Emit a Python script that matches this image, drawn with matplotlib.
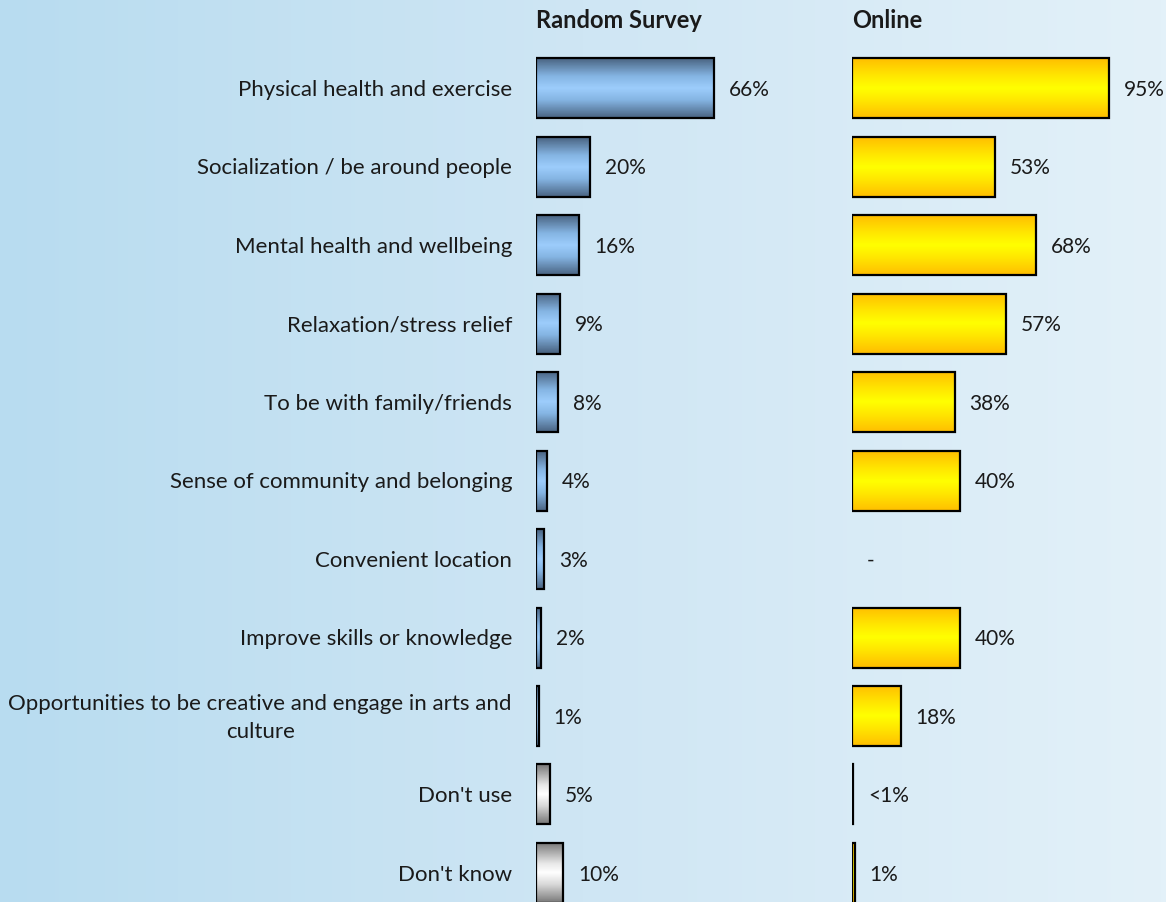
import numpy as np
import matplotlib
matplotlib.use("Agg")
import matplotlib.pyplot as plt
from matplotlib.colors import LinearSegmentedColormap

# ---------------- data ----------------
categories = [
    "Physical health and exercise",
    "Socialization / be around people",
    "Mental health and wellbeing",
    "Relaxation/stress relief",
    "To be with family/friends",
    "Sense of community and belonging",
    "Convenient location",
    "Improve skills or knowledge",
    "Opportunities to be creative and engage in arts and\nculture",
    "Don't use",
    "Don't know",
]
random_values = [66, 20, 16, 9, 8, 4, 3, 2, 1, 5, 10]
random_labels = ["66%", "20%", "16%", "9%", "8%", "4%", "3%", "2%", "1%", "5%", "10%"]
random_kind = ["blue"] * 9 + ["gray"] * 2

online_values = [95, 53, 68, 57, 38, 40, None, 40, 18, 0.3, 1]
online_labels = ["95%", "53%", "68%", "57%", "38%", "40%", "-", "40%", "18%", "<1%", "1%"]

headers = ["Random Survey", "Online"]

# ---------------- style ----------------
W, H = 1166, 903
FONT = "Lato"
TXT = "#1a1a1a"
plt.rcParams["font.family"] = [FONT, "DejaVu Sans"]

cmaps = {
    "blue": LinearSegmentedColormap.from_list(
        "b", [(0, "#4a6482"), (0.3, "#85b5e3"), (0.5, "#9dcdfc"), (0.7, "#85b5e3"), (1, "#4a6482")]),
    "yellow": LinearSegmentedColormap.from_list(
        "y", [(0, "#ffbf00"), (0.3, "#ffe800"), (0.5, "#ffff00"), (0.7, "#ffe800"), (1, "#ffbf00")]),
    "gray": LinearSegmentedColormap.from_list(
        "g", [(0, "#787878"), (0.35, "#e8e8e8"), (0.5, "#ffffff"), (0.7, "#d8d8d8"), (1, "#787878")]),
}

fig = plt.figure(figsize=(W / 100, H / 100), dpi=100)

# background gradient
bg = fig.add_axes([0, 0, 1, 1], zorder=-10)
grad = np.linspace(0, 1, 256)[None, :]
bg_cmap = LinearSegmentedColormap.from_list("bg", ["#b8dcf0", "#cfe6f4", "#e3f1f9"])
bg.imshow(grad, aspect="auto", cmap=bg_cmap, extent=[0, 1, 0, 1])
bg.set_axis_off()

px_per_unit = 2.7
row0, row_step = 89, 78.5
y_top = -row0 / row_step
y_bot = (H - row0) / row_step
bar_h = 60 / row_step


def make_axes(left_px):
    ax = fig.add_axes([left_px / W, 0, 100 * px_per_unit / W, 1])
    ax.set_xlim(0, 100)
    ax.set_ylim(y_bot, y_top)
    ax.set_axis_off()
    ax.patch.set_alpha(0)
    return ax


axL = make_axes(536)
axR = make_axes(852)

vgrad = np.linspace(0, 1, 100)[:, None]


def draw_bars(ax, values, labels, kinds):
    n = len(values)
    ys = np.arange(n)
    vals = [0 if v is None else v for v in values]
    bars = ax.barh(ys, vals, height=bar_h, color="none", edgecolor="none")
    for i, (b, v, lab) in enumerate(zip(bars, values, labels)):
        x0, y0, w, h = b.get_x(), b.get_y(), b.get_width(), b.get_height()
        if v is not None:
            ax.imshow(vgrad, extent=[x0, x0 + w, y0 + h, y0], aspect="auto",
                      cmap=cmaps[kinds[i]], origin="upper", zorder=2, interpolation="bilinear")
            ax.add_patch(plt.Rectangle((x0, y0), w, h, fill=False, edgecolor="black",
                                       linewidth=1.6, zorder=3))
        ax.annotate(lab, xy=(x0 + w, ys[i]), xytext=(15, -1), textcoords="offset pixels",
                    ha="left", va="center", fontsize=15, color=TXT, annotation_clip=False)
    ax.set_xlim(0, 100)
    ax.set_ylim(y_bot, y_top)


draw_bars(axL, random_values, random_labels, random_kind)
draw_bars(axR, online_values, online_labels, ["yellow"] * len(online_values))

for i, cat in enumerate(categories):
    axL.annotate(cat, xy=(0, i), xytext=(-24, -1), textcoords="offset pixels",
                 ha="right", va="center", multialignment="center",
                 fontsize=16, color=TXT, annotation_clip=False, linespacing=1.55)

for ax, hdr in zip([axL, axR], headers):
    ax.annotate(hdr, xy=(0, y_top), xytext=(0, -20), textcoords="offset pixels",
                ha="left", va="center", fontsize=17, fontweight="bold", color=TXT,
                annotation_clip=False)

fig.savefig("out.png", dpi=100)
